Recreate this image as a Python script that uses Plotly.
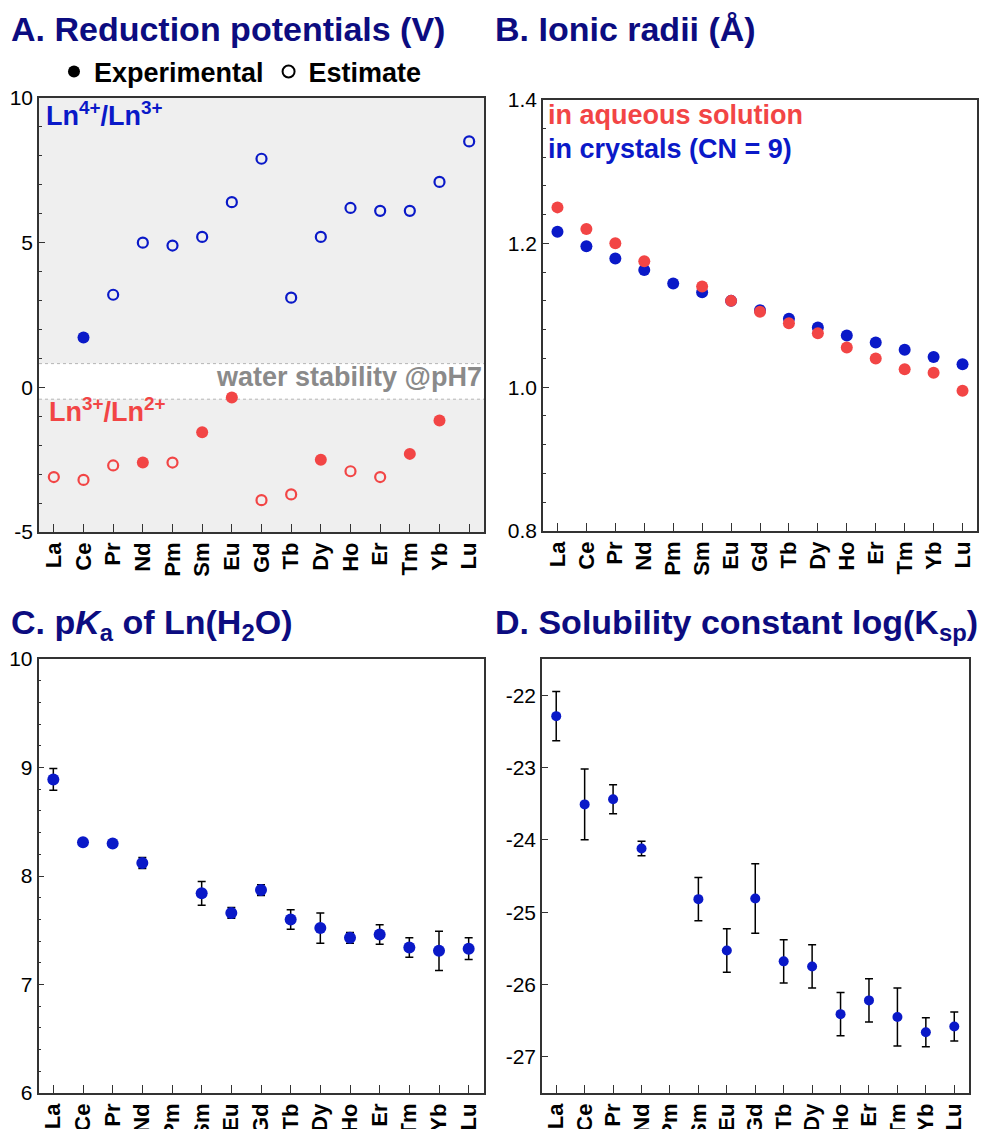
"""
    Lanthanide property overview: four panels (A-D)
"""

import plotly.graph_objects as go

W, H = 983, 1129

# ---- data ----
elements = ["La", "Ce", "Pr", "Nd", "Pm", "Sm", "Eu", "Gd", "Tb", "Dy", "Ho", "Er", "Tm", "Yb", "Lu"]

# A. reduction potentials (V)
ln43_values = [None, 1.72, 3.2, 5.0, 4.9, 5.2, 6.4, 7.9, 3.1, 5.2, 6.2, 6.1, 6.1, 7.1, 8.5]
ln43_experimental = [False, True, False, False, False, False, False, False, False, False, False, False, False, False, False]
ln32_values = [-3.1, -3.2, -2.7, -2.6, -2.6, -1.55, -0.35, -3.9, -3.7, -2.5, -2.9, -3.1, -2.3, -1.15, None]
ln32_experimental = [False, False, False, True, False, True, True, False, False, True, False, False, True, True, False]
water_upper = 0.82
water_lower = -0.41

# B. ionic radii (Å)
radii_aqueous = [1.25, 1.22, 1.20, 1.175, None, 1.14, 1.12, 1.105, 1.089, 1.075, 1.055, 1.04, 1.025, 1.02, 0.995]
radii_crystal = [1.216, 1.196, 1.179, 1.163, 1.144, 1.132, 1.120, 1.107, 1.095, 1.083, 1.072, 1.062, 1.052, 1.042, 1.032]

# C. pKa of Ln(H2O)
pka_values = [8.89, 8.31, 8.30, 8.12, None, 7.84, 7.66, 7.87, 7.60, 7.52, 7.43, 7.46, 7.34, 7.31, 7.33]
pka_errors = [0.10, 0.02, 0.02, 0.05, None, 0.11, 0.05, 0.05, 0.09, 0.14, 0.05, 0.09, 0.09, 0.18, 0.10]

# D. solubility constant log(Ksp)
ksp_values = [-22.29, -23.51, -23.44, -24.12, None, -24.82, -25.53, -24.81, -25.68, -25.75, -26.41, -26.22, -26.45, -26.66, -26.58]
ksp_errors = [0.34, 0.49, 0.20, 0.10, None, 0.30, 0.30, 0.48, 0.30, 0.30, 0.30, 0.30, 0.40, 0.20, 0.20]

# y tick values of each panel
ticks_a = [-5, 0, 5, 10]
ticks_b = [0.8, 1.0, 1.2, 1.4]
ticks_c = [6, 7, 8, 9, 10]
ticks_d = [-27, -26, -25, -24, -23, -22]

# ---- styles ----
FONT = "Arial, Liberation Sans, sans-serif"
NAVY = "#0c0c80"
BLUE = "#0a19c8"
RED = "#f24545"
GREY_TXT = "#8a8a8a"
AXIS = "#333333"


def px(x):
    """pixel -> paper fraction"""
    return x / W


def py(y):
    return 1 - y / H


def pick(values, flags, want):
    return [v if (v is not None and f == want) else None for v, f in zip(values, flags)]


fig = go.Figure()

# A traces
fig.add_trace(go.Scatter(x=elements, y=pick(ln43_values, ln43_experimental, False), mode="markers",
                         marker=dict(symbol="circle-open", size=10, color=BLUE, line=dict(width=2.2, color=BLUE)),
                         xaxis="x", yaxis="y", showlegend=False))
fig.add_trace(go.Scatter(x=elements, y=pick(ln43_values, ln43_experimental, True), mode="markers",
                         marker=dict(symbol="circle", size=12, color=BLUE),
                         xaxis="x", yaxis="y", showlegend=False))
fig.add_trace(go.Scatter(x=elements, y=pick(ln32_values, ln32_experimental, False), mode="markers",
                         marker=dict(symbol="circle-open", size=10, color=RED, line=dict(width=2.2, color=RED)),
                         xaxis="x", yaxis="y", showlegend=False))
fig.add_trace(go.Scatter(x=elements, y=pick(ln32_values, ln32_experimental, True), mode="markers",
                         marker=dict(symbol="circle", size=12, color=RED),
                         xaxis="x", yaxis="y", showlegend=False))

# legend entries for panel A
fig.add_trace(go.Scatter(x=[None], y=[None], mode="markers", name="Experimental",
                         marker=dict(symbol="circle", size=10, color="black"), xaxis="x", yaxis="y"))
fig.add_trace(go.Scatter(x=[None], y=[None], mode="markers", name="Estimate",
                         marker=dict(symbol="circle-open", size=9, color="black", line=dict(width=2)),
                         xaxis="x", yaxis="y"))

# B traces
fig.add_trace(go.Scatter(x=elements, y=radii_crystal, mode="markers",
                         marker=dict(size=12, color=BLUE), xaxis="x2", yaxis="y2", showlegend=False))
fig.add_trace(go.Scatter(x=elements, y=radii_aqueous, mode="markers",
                         marker=dict(size=12, color=RED), xaxis="x2", yaxis="y2", showlegend=False))

# C trace
fig.add_trace(go.Scatter(x=elements, y=pka_values, mode="markers",
                         marker=dict(size=12, color=BLUE),
                         error_y=dict(type="data", array=pka_errors, color="black", thickness=1.5, width=4),
                         xaxis="x3", yaxis="y3", showlegend=False))

# D trace
fig.add_trace(go.Scatter(x=elements, y=ksp_values, mode="markers",
                         marker=dict(size=10, color=BLUE),
                         error_y=dict(type="data", array=ksp_errors, color="black", thickness=1.5, width=4),
                         xaxis="x4", yaxis="y4", showlegend=False))


def xaxis(domain, anchor):
    return dict(domain=domain, anchor=anchor, type="category", range=[-0.5, 14.5], automargin=False,
                showline=True, linecolor=AXIS, linewidth=1.5, mirror=True,
                ticks="inside", ticklen=8, tickwidth=1.3, tickcolor=AXIS,
                tickangle=-90, tickfont=dict(family=FONT, size=22, color="black", weight="bold"),
                showgrid=False, zeroline=False, fixedrange=True)


def yaxis(domain, anchor, rng, tickvals, labels, minor=None):
    ax = dict(domain=domain, anchor=anchor, range=rng, automargin=False,
              tickvals=tickvals, ticktext=labels,
              showline=True, linecolor=AXIS, linewidth=1.5, mirror=True,
              ticks="inside", ticklen=6, tickwidth=1.3, tickcolor=AXIS,
              tickfont=dict(family=FONT, size=21, color="black"),
              showgrid=False, zeroline=False)
    if minor:
        ax["minor"] = dict(dtick=minor, tick0=0, ticks="inside", ticklen=3, tickcolor=AXIS,
                           tickwidth=1, showgrid=False)
    return ax


fig.update_layout(
    width=W, height=H,
    margin=dict(l=0, r=0, t=0, b=0),
    paper_bgcolor="white", plot_bgcolor="white",
    font=dict(family=FONT, color="black"),
    xaxis=xaxis([px(39), px(484)], "y"),
    yaxis=yaxis([py(532), py(98)], "x", [-5, 10], ticks_a, [str(v) for v in ticks_a], 1),
    xaxis2=xaxis([px(543), px(977)], "y2"),
    yaxis2=yaxis([py(531), py(99.5)], "x2", [0.8, 1.4], ticks_b, [f"{v:.1f}" for v in ticks_b], 0.04),
    xaxis3=xaxis([px(38.5), px(483.5)], "y3"),
    yaxis3=yaxis([py(1093), py(659)], "x3", [6, 10], ticks_c, [str(v) for v in ticks_c], 0.2),
    xaxis4=xaxis([px(542), px(968.5)], "y4"),
    yaxis4=yaxis([py(1093), py(659)], "x4", [-27.5, -21.5], ticks_d, [str(v) for v in ticks_d]),
    legend=dict(orientation="h", x=px(54), y=py(72), xanchor="left", yanchor="middle",
                font=dict(family=FONT, size=27, color="black", weight="bold"),
                itemsizing="constant", bgcolor="rgba(0,0,0,0)"),
)

# grey background of panel A, leaving the water-stability window white
shapes = [
    dict(type="rect", xref="x domain", yref="y", x0=0, x1=1, y0=water_upper, y1=10,
         fillcolor="#efefef", line=dict(width=0), layer="below"),
    dict(type="rect", xref="x domain", yref="y", x0=0, x1=1, y0=-5, y1=water_lower,
         fillcolor="#efefef", line=dict(width=0), layer="below"),
    dict(type="line", xref="x domain", yref="y", x0=0, x1=1, y0=water_upper, y1=water_upper,
         line=dict(color="#b5b5b5", width=1, dash="dot"), layer="below"),
    dict(type="line", xref="x domain", yref="y", x0=0, x1=1, y0=water_lower, y1=water_lower,
         line=dict(color="#b5b5b5", width=1, dash="dot"), layer="below"),
]
fig.update_layout(shapes=shapes)

title_font = dict(family=FONT, size=34, color=NAVY, weight="bold")
label_font = dict(family=FONT, size=27, weight="bold")

annotations = [
    dict(text="A. Reduction potentials (V)", x=px(9), y=py(29), font=title_font),
    dict(text="B. Ionic radii (Å)", x=px(493), y=py(29), font=title_font),
    dict(text="C. p<i>K</i><sub>a</sub> of Ln(H<sub>2</sub>O)", x=px(9), y=py(624), font=title_font),
    dict(text="D. Solubility constant log(K<sub>sp</sub>)", x=px(493), y=py(624), font=title_font),
    dict(text="Ln<sup>4+</sup>/Ln<sup>3+</sup>", x=px(44), y=py(114), font=dict(label_font, color=BLUE)),
    dict(text="Ln<sup>3+</sup>/Ln<sup>2+</sup>", x=px(47), y=py(410), font=dict(label_font, color=RED)),
    dict(text="in aqueous solution", x=px(546), y=py(115), font=dict(label_font, color=RED)),
    dict(text="in crystals (CN = 9)", x=px(546), y=py(149), font=dict(label_font, color=BLUE)),
]
for a in annotations:
    a.update(xref="paper", yref="paper", xanchor="left", yanchor="middle", showarrow=False)
annotations.append(dict(text="water stability @pH7", x=px(484), y=py(377), xref="paper", yref="paper",
                        xanchor="right", yanchor="middle", showarrow=False,
                        font=dict(label_font, color=GREY_TXT)))
fig.update_layout(annotations=annotations)

# drop the default page margin so the figure fills the window exactly; hide the mode bar
fig.write_html("out.html", config={"displayModeBar": False},
               post_script="document.body.style.margin='0';document.documentElement.style.overflow='hidden';")
